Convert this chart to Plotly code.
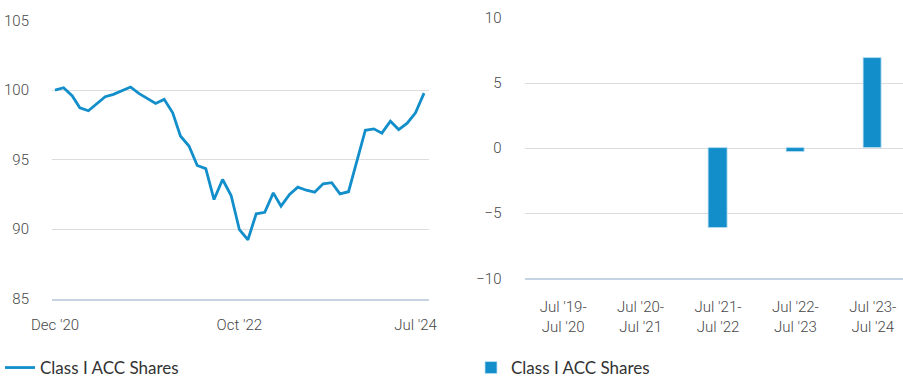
import plotly.graph_objects as go
import pandas as pd

# Growth of 100, monthly, Class I ACC Shares
months = pd.date_range("2020-12-01", "2024-08-01", freq="MS")
growth = [
    100.00, 100.17, 99.59, 98.72, 98.51, 98.99, 99.52, 99.69, 99.98, 100.22,
    99.76, 99.40, 99.04, 99.33, 98.36, 96.70, 95.98, 94.58, 94.35, 92.13,
    93.57, 92.42, 89.96, 89.24, 91.10, 91.21, 92.61, 91.65, 92.49, 93.02,
    92.80, 92.66, 93.26, 93.34, 92.54, 92.69, 94.90, 97.11, 97.21, 96.90,
    97.76, 97.16, 97.62, 98.36, 99.78,
]
line_tick_dates = ["2020-12-01", "2022-10-01", "2024-07-01"]
line_tick_labels = ["Dec '20", "Oct '22", "Jul '24"]

# Discrete annual returns (%)
periods = ["Jul '19-<br>Jul '20", "Jul '20-<br>Jul '21", "Jul '21-<br>Jul '22",
           "Jul '22-<br>Jul '23", "Jul '23-<br>Jul '24"]
annual_returns = [None, None, -6.17, -0.27, 6.90]

series_name = "Class I ACC Shares"
BLUE = "#128FCB"
GRID = "#dcdcdc"
BASE = "#c6d3e2"
TICK_FONT = dict(family="Roboto, sans-serif", size=15, color="#474747", weight=300)
LEGEND_FONT = dict(family="Lato, Noto Sans, sans-serif", size=17, color="#333333")

W, H = 903, 378

fig = go.Figure()

fig.add_trace(go.Scatter(
    x=months, y=growth, mode="lines", name=series_name,
    line=dict(color=BLUE, width=2.8),
    xaxis="x", yaxis="y", legend="legend",
))

fig.add_trace(go.Bar(
    x=periods, y=annual_returns, name=series_name, width=0.235,
    marker=dict(color=BLUE, line=dict(color="#bfe0f2", width=0.8)),
    xaxis="x2", yaxis="y2", legend="legend2",
))

fig.update_layout(
    width=W, height=H,
    margin=dict(l=0, r=0, t=0, b=0, autoexpand=False),
    paper_bgcolor="white", plot_bgcolor="white",
    showlegend=True,
    xaxis=dict(
        domain=[52 / W, 429 / W], type="date", anchor="y", automargin=False,
        range=["2020-11-20", "2024-08-19"],
        tickvals=line_tick_dates, ticktext=line_tick_labels,
        showgrid=False, zeroline=False,
        showline=True, linecolor=BASE, linewidth=1.5,
        ticks="outside", ticklen=12, tickcolor="rgba(0,0,0,0)",
        tickfont=TICK_FONT,
    ),
    yaxis=dict(
        domain=[(H - 298.7) / H, (H - 20.5) / H], anchor="x", automargin=False,
        range=[85, 105], tickvals=[85, 90, 95, 100, 105],
        showgrid=True, gridcolor=GRID, gridwidth=1.2, zeroline=False,
        ticks="outside", ticklen=19, tickcolor="rgba(0,0,0,0)",
        tickfont=TICK_FONT,
    ),
    xaxis2=dict(
        domain=[524.5 / W, 1.0], type="category", anchor="y2", automargin=False,
        range=[-0.5, 4.39],
        showgrid=False, zeroline=False,
        showline=True, linecolor=BASE, linewidth=1.5,
        ticks="outside", ticklen=14, tickcolor="rgba(0,0,0,0)",
        tickfont=TICK_FONT,
    ),
    yaxis2=dict(
        domain=[(H - 278.3) / H, (H - 18) / H], anchor="x2", automargin=False,
        range=[-10, 10], tickvals=[-10, -5, 0, 5, 10],
        showgrid=True, gridcolor=GRID, gridwidth=1.2,
        zeroline=True, zerolinecolor=GRID, zerolinewidth=1.2,
        ticks="outside", ticklen=19, tickcolor="rgba(0,0,0,0)",
        tickfont=TICK_FONT,
    ),
    legend=dict(
        x=0.0, y=(H - 368) / H, xanchor="left", yanchor="middle",
        font=LEGEND_FONT, bgcolor="rgba(0,0,0,0)",
    ),
    legend2=dict(
        x=471 / W, y=(H - 368) / H, xanchor="left", yanchor="middle",
        font=LEGEND_FONT, bgcolor="rgba(0,0,0,0)",
    ),
    bargap=0,
)

fig.write_html("out.html")
